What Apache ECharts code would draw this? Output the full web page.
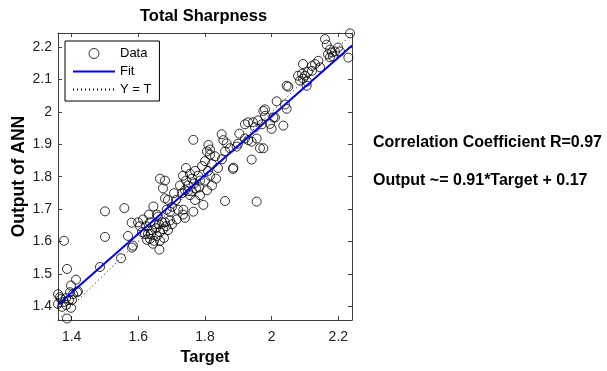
<!DOCTYPE html>
<html>
<head>
<meta charset="utf-8">
<script src="https://cdn.jsdelivr.net/npm/echarts@6/dist/echarts.min.js"></script>
<style>
  html, body { margin: 0; padding: 0; background: #fff; }
  #chart { width: 607px; height: 371px; }
</style>
</head>
<body>
<div id="chart"></div>
<script>
// target (x) and ANN output (y) for each sample
var targetVals = [
  1.359, 1.368, 1.377, 1.371, 1.383, 1.398, 1.392, 1.383, 1.359, 1.386,
  1.401, 1.395, 1.416, 1.413, 1.398, 1.419, 1.386, 1.377, 1.404, 1.365,
  1.485, 1.500, 1.548, 1.569, 1.581, 1.584,
  1.500, 1.558, 1.580, 1.663, 1.645, 1.680, 1.685, 1.715, 1.735, 1.740,
  1.614, 1.623, 1.629, 1.635, 1.641, 1.650, 1.656, 1.665, 1.671, 1.659,
  1.635, 1.620, 1.647, 1.677, 1.683, 1.689, 1.605, 1.611, 1.626, 1.644,
  1.665, 1.674, 1.653, 1.638, 1.662, 1.680, 1.695, 1.701, 1.632, 1.599,
  1.734, 1.743, 1.749, 1.755, 1.761, 1.767, 1.773, 1.749, 1.740, 1.755,
  1.779, 1.770, 1.785, 1.725, 1.731, 1.761, 1.743, 1.782,
  1.701, 1.713, 1.719, 1.689, 1.707, 1.791, 1.800, 1.809, 1.821, 1.830,
  1.815, 1.839, 1.851, 1.860, 1.800, 1.785, 1.806, 1.821, 1.833, 1.770,
  1.795, 1.765, 1.734, 1.695, 1.656, 1.665, 1.680, 1.674, 1.765, 1.860,
  1.884, 1.806, 1.815, 1.899,
  1.850, 1.903, 1.920, 1.929, 1.944, 1.959, 1.971, 1.950, 1.980, 2.015,
  2.040, 2.005, 2.035, 1.995, 2.000, 1.940, 1.955, 1.965, 1.975, 1.940,
  1.895, 1.875, 1.865, 1.810, 1.815, 1.855, 1.885, 1.920, 1.930, 1.975,
  1.955,
  2.160, 2.235, 2.230, 2.175, 2.181, 2.169, 2.190, 2.205, 2.199, 2.184,
  2.175, 2.140, 2.130, 2.145, 2.094, 2.091, 2.079, 2.100, 2.094, 2.109,
  2.121, 2.121, 2.106, 2.085, 2.050, 2.045, 1.980, 2.010, 2.165, 2.045,
  2.105
];
var outputVals = [
  1.437, 1.422, 1.413, 1.398, 1.404, 1.395, 1.419, 1.425, 1.407, 1.362,
  1.419, 1.443, 1.443, 1.482, 1.464, 1.446, 1.515, 1.602, 1.437, 1.428,
  1.521, 1.614, 1.548, 1.617, 1.581, 1.587,
  1.693, 1.703, 1.658, 1.575, 1.708, 1.733, 1.698, 1.668, 1.698, 1.673,
  1.668, 1.647, 1.623, 1.608, 1.635, 1.653, 1.617, 1.629, 1.659, 1.677,
  1.659, 1.623, 1.602, 1.611, 1.647, 1.635, 1.647, 1.629, 1.605, 1.593,
  1.602, 1.638, 1.641, 1.623, 1.653, 1.659, 1.665, 1.653, 1.683, 1.659,
  1.803, 1.788, 1.773, 1.809, 1.794, 1.779, 1.764, 1.755, 1.758, 1.743,
  1.803, 1.818, 1.788, 1.773, 1.749, 1.755, 1.827, 1.767,
  1.707, 1.728, 1.698, 1.728, 1.749, 1.833, 1.848, 1.818, 1.839, 1.863,
  1.803, 1.827, 1.854, 1.878, 1.788, 1.743, 1.758, 1.773, 1.794, 1.728,
  1.713, 1.692, 1.683, 1.692, 1.683, 1.794, 1.788, 1.764, 1.914, 1.725,
  1.824, 1.878, 1.884, 1.902,
  1.931, 1.933, 1.962, 1.968, 1.968, 1.974, 1.962, 1.953, 1.988, 2.033,
  2.023, 1.983, 1.958, 1.963, 1.948, 1.908, 1.918, 1.888, 1.888, 1.853,
  1.893, 1.888, 1.903, 1.898, 1.868, 1.913, 1.828, 1.918, 1.913, 2.003,
  1.723,
  2.225, 2.243, 2.168, 2.193, 2.184, 2.178, 2.187, 2.187, 2.199, 2.172,
  2.169, 2.158, 2.148, 2.138, 2.148, 2.118, 2.112, 2.112, 2.103, 2.124,
  2.127, 2.142, 2.094, 2.097, 2.078, 2.010, 2.008, 1.983, 2.208, 2.081,
  2.081
];

// end points of the fit line and of the Y = T line
var fitX = [1.359, 2.241];
var fitY = [1.405, 2.205];
var identX = [1.359, 2.241];
var identY = [1.359, 2.241];

var xTicks = [1.4, 1.6, 1.8, 2.0, 2.2];
var yTicks = [1.4, 1.5, 1.6, 1.7, 1.8, 1.9, 2.0, 2.1, 2.2];

var FONT = "'Liberation Sans', Arial, sans-serif";
var boxColor = "#404040";

var chart = echarts.init(document.getElementById("chart"));

function pairs(xs, ys) {
  var out = [];
  xs.forEach(function (v, i) { out.push([v, ys[i]]); });
  return out;
}

function boxAxis(pos, isX, ticks, showLabels) {
  return {
    type: "value",
    position: pos,
    min: isX ? 1.359 : 1.357,
    max: isX ? 2.241 : 2.244,
    splitLine: { show: false },
    axisLine: { show: true, onZero: false, lineStyle: { color: boxColor, width: 1 } },
    axisTick: {
      show: true,
      inside: true,
      length: 4,
      customValues: ticks,
      lineStyle: { color: boxColor },
    },
    axisLabel: {
      show: showLabels,
      customValues: ticks,
      margin: isX ? 10 : 6,
      color: "#222",
      fontSize: 14,
      fontFamily: FONT,
    },
  };
}

var xBottom = boxAxis("bottom", true, xTicks, true);
xBottom.name = "Target";
xBottom.nameLocation = "middle";
xBottom.nameGap = 21;
xBottom.nameTextStyle = { fontSize: 16.5, fontWeight: "bold", color: "#000", fontFamily: FONT };

var yLeft = boxAxis("left", false, yTicks, true);
yLeft.name = "Output of ANN";
yLeft.nameLocation = "middle";
yLeft.nameGap = 30;
yLeft.nameTextStyle = { fontSize: 17.5, fontWeight: "bold", color: "#000", fontFamily: FONT };

chart.setOption({
  animation: false,
  backgroundColor: "#fff",
  title: {
    text: "Total Sharpness",
    left: 140,
    top: 8,
    padding: 0,
    textStyle: { fontSize: 16.5, fontWeight: "bold", color: "#000", fontFamily: FONT },
  },
  grid: { left: 58, top: 33, width: 294, height: 296 },
  legend: {
    orient: "vertical",
    left: 65,
    top: 41,
    padding: [6, 8, 5, 7],
    itemWidth: 42,
    itemHeight: 10,
    itemGap: 5,
    backgroundColor: "#fff",
    borderColor: "#000",
    borderWidth: 1,
    borderRadius: 0,
    textStyle: { fontSize: 13, color: "#000", fontFamily: FONT },
    data: [
      { name: "Data", itemStyle: { color: "rgba(0,0,0,0)", borderColor: "#000", borderWidth: 1 } },
      { name: "Fit", itemStyle: { opacity: 0 } },
      { name: "Y = T", itemStyle: { opacity: 0 } },
    ],
  },
  xAxis: [xBottom, boxAxis("top", true, xTicks, false)],
  yAxis: [yLeft, boxAxis("right", false, yTicks, false)],
  series: [
    {
      name: "Data",
      type: "scatter",
      symbol: "circle",
      symbolSize: 9,
      clip: false,
      itemStyle: { color: "rgba(0,0,0,0)", borderColor: "#000", borderWidth: 1 },
      data: pairs(targetVals, outputVals),
    },
    {
      name: "Fit",
      type: "line",
      symbol: "none",
      lineStyle: { color: "#0000ff", width: 2 },
      itemStyle: { color: "#0000ff" },
      data: pairs(fitX, fitY),
    },
    {
      name: "Y = T",
      type: "line",
      symbol: "none",
      lineStyle: { color: "#000", width: 1, type: [1, 3] },
      itemStyle: { color: "#000" },
      data: pairs(identX, identY),
    },
  ],
  graphic: [
    {
      type: "text",
      left: 373,
      top: 135,
      style: { text: "Correlation Coefficient R=0.97", font: "bold 16px " + FONT, fill: "#000" },
    },
    {
      type: "text",
      left: 373,
      top: 173,
      style: { text: "Output ~= 0.91*Target + 0.17", font: "bold 16px " + FONT, fill: "#000" },
    },
  ],
});
</script>
</body>
</html>
